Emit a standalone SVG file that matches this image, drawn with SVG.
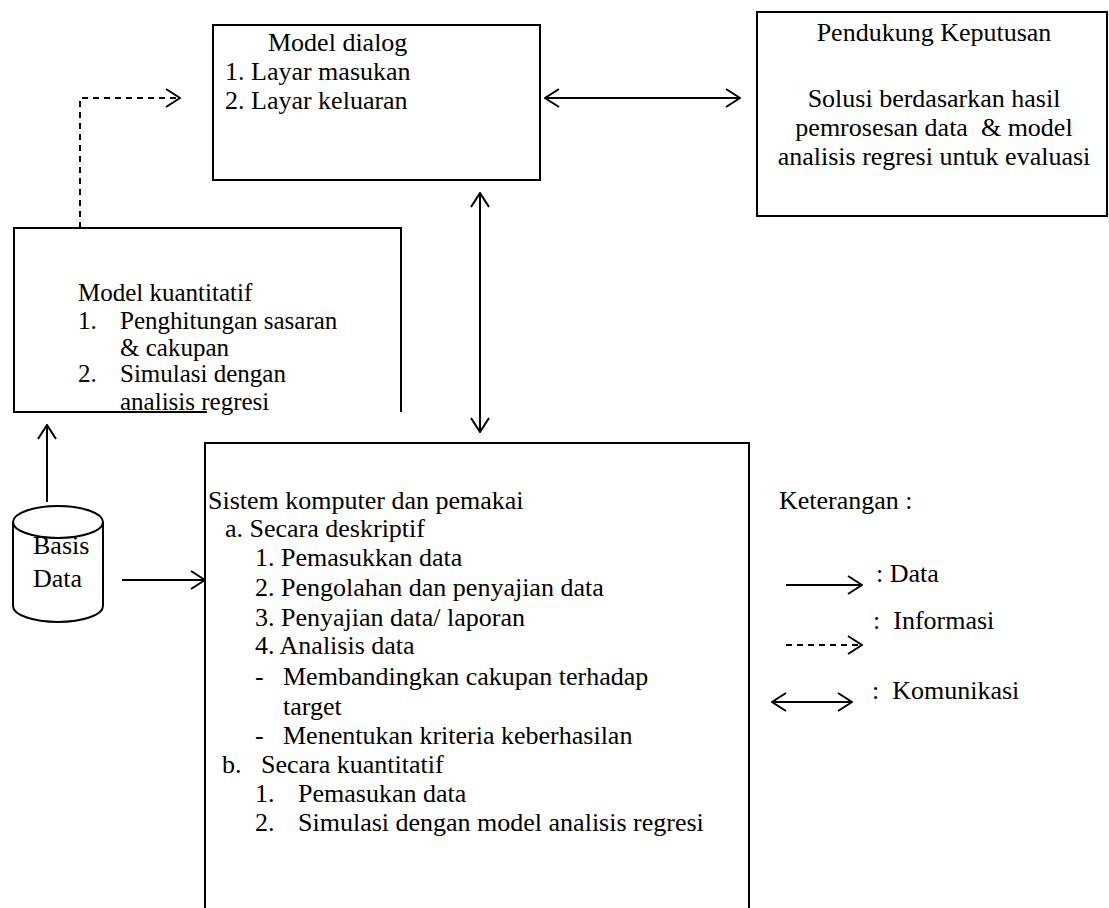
<svg xmlns="http://www.w3.org/2000/svg" width="1109" height="908" viewBox="0 0 1109 908" font-family="'Liberation Serif', 'Times New Roman', Tinos, 'DejaVu Serif', serif">
<style>
  .box { fill: none; stroke: #000; stroke-width: 2; }
  .ln { fill: none; stroke: #000; stroke-width: 2; }
  .dash { fill: none; stroke: #000; stroke-width: 2; stroke-dasharray: 6 5; }
  text { font-family: 'Liberation Serif', 'Times New Roman', Tinos, 'DejaVu Serif', serif; font-size: 26px; fill: #000; }
  .c { text-anchor: middle; }
  .s { font-size: 25px; }
</style>
<defs>
  <marker id="ah" viewBox="0 0 16 20" refX="15" refY="10" markerWidth="16" markerHeight="20" markerUnits="userSpaceOnUse" orient="auto-start-reverse">
    <path d="M1,1 L15,10 L1,19" fill="none" stroke="#000" stroke-width="2"/>
  </marker>
</defs>
<rect width="1109" height="908" fill="#fff"/>

<g id="connectors">
  <path class="dash" d="M80,228 L80,98 L180,98" marker-end="url(#ah)"/>
  <line class="ln" x1="545" y1="98" x2="740" y2="98" marker-start="url(#ah)" marker-end="url(#ah)"/>
  <line class="ln" x1="480" y1="193" x2="480" y2="432" marker-start="url(#ah)" marker-end="url(#ah)"/>
  <line class="ln" x1="47" y1="502" x2="47" y2="425" marker-end="url(#ah)"/>
  <line class="ln" x1="122" y1="580" x2="205" y2="580" marker-end="url(#ah)"/>
</g>

<g id="model-dialog">
  <rect class="box" x="213" y="25" width="327" height="155"/>
  <text x="268" y="51">Model dialog</text>
  <text x="225" y="80">1. Layar masukan</text>
  <text x="225" y="109">2. Layar keluaran</text>
</g>

<g id="pendukung-keputusan">
  <rect class="box" x="757" y="12" width="350" height="204"/>
  <text x="934" y="41" class="c">Pendukung Keputusan</text>
  <text x="934" y="107" class="c">Solusi berdasarkan hasil</text>
  <text x="934" y="136" class="c" xml:space="preserve">pemrosesan data  &amp; model</text>
  <text x="934" y="165" class="c">analisis regresi untuk evaluasi</text>
</g>

<g id="model-kuantitatif">
  <path class="box" d="M207,412 L14,412 L14,228 L401,228 L401,412"/>
  <text class="s" x="78" y="301">Model kuantitatif</text>
  <text class="s" x="78" y="329">1.</text>
  <text class="s" x="120" y="329">Penghitungan sasaran</text>
  <text class="s" x="120" y="356">&amp; cakupan</text>
  <text class="s" x="78" y="382">2.</text>
  <text class="s" x="120" y="382">Simulasi dengan</text>
  <text class="s" x="120" y="410">analisis regresi</text>
</g>

<g id="basis-data">
  <path class="box" d="M13,522 L13,606 A45,16 0 0 0 103,606 L103,522"/>
  <ellipse class="box" cx="58" cy="522" rx="45" ry="16"/>
  <text x="33" y="554">Basis</text>
  <text x="33" y="587">Data</text>
</g>

<g id="sistem-komputer">
  <path class="box" d="M205,908 L205,443 L749,443 L749,908"/>
  <text x="208" y="509">Sistem komputer dan pemakai</text>
  <text x="225" y="537">a. Secara deskriptif</text>
  <text x="255" y="566">1. Pemasukkan data</text>
  <text x="255" y="596">2. Pengolahan dan penyajian data</text>
  <text x="255" y="626">3. Penyajian data/ laporan</text>
  <text x="255" y="654">4. Analisis data</text>
  <text x="255" y="685">-</text>
  <text x="283" y="685">Membandingkan cakupan terhadap</text>
  <text x="283" y="715">target</text>
  <text x="255" y="744">-</text>
  <text x="283" y="744">Menentukan kriteria keberhasilan</text>
  <text x="222" y="773">b.</text>
  <text x="261" y="773">Secara kuantitatif</text>
  <text x="255" y="802">1.</text>
  <text x="298" y="802">Pemasukan data</text>
  <text x="255" y="831">2.</text>
  <text x="298" y="831">Simulasi dengan model analisis regresi</text>
</g>

<g id="legend">
  <text x="779" y="509">Keterangan :</text>
  <line class="ln" x1="786" y1="585" x2="862" y2="585" marker-end="url(#ah)"/>
  <text x="876" y="582">: Data</text>
  <line class="dash" x1="786" y1="645" x2="862" y2="645" marker-end="url(#ah)"/>
  <text x="873" y="629" xml:space="preserve">:  Informasi</text>
  <line class="ln" x1="772" y1="702" x2="852" y2="702" marker-start="url(#ah)" marker-end="url(#ah)"/>
  <text x="872" y="699" xml:space="preserve">:  Komunikasi</text>
</g>
</svg>
